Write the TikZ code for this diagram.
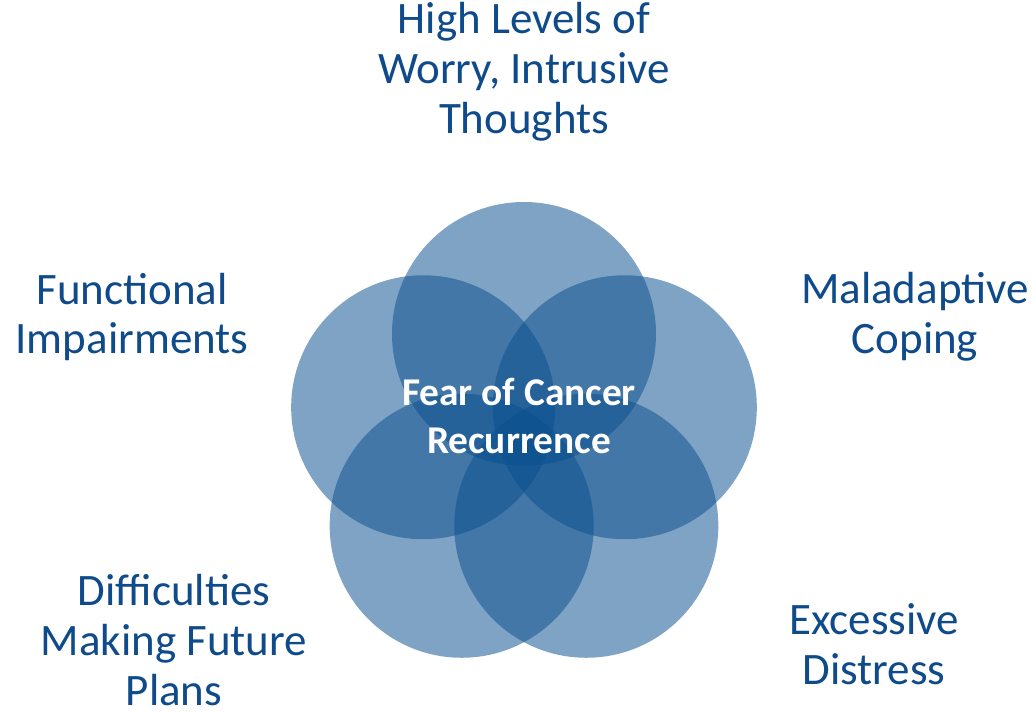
\documentclass[tikz,border=0pt]{standalone}
\usepackage{fontspec}
\setmainfont{Carlito}
\definecolor{fcrblue}{HTML}{0A4F8E}
\definecolor{fcrtext}{HTML}{0F4A8A}
\begin{document}
\begin{tikzpicture}[
    petal/.style={fill=fcrblue, fill opacity=0.52, draw=none},
    outer/.style={text=fcrtext, align=center, font=\fontsize{32}{35.5}\selectfont},
    core/.style={text=white, align=center, font=\bfseries\fontsize{28}{34}\selectfont}
]

% Marco de la figura
\useasboundingbox (-13.1,-6.8) rectangle (12.775,11.0);

% =============================================
% Cinco círculos superpuestos
% =============================================
\foreach \ang in {90, 162, 234, 306, 18} {
    \fill[petal] (\ang:2.65) circle (3.3);
}

% Texto central
\node[core] (fcr) at (-0.125,0.6) {Fear of Cancer\\Recurrence};

% =============================================
% Etiquetas exteriores
% =============================================
\node[outer] (worry) at (0,9.2) {High Levels of\\Worry, Intrusive\\Thoughts};
\node[outer] (func) at (-9.8,3.075) {Functional\\Impairments};
\node[outer] (coping) at (9.775,3.075) {Maladaptive\\Coping};
\node[outer] (plans) at (-8.75,-5.0) {Difficulties\\Making Future\\Plans};
\node[outer] (distress) at (8.75,-5.1) {Excessive\\Distress};

\end{tikzpicture}
\end{document}
